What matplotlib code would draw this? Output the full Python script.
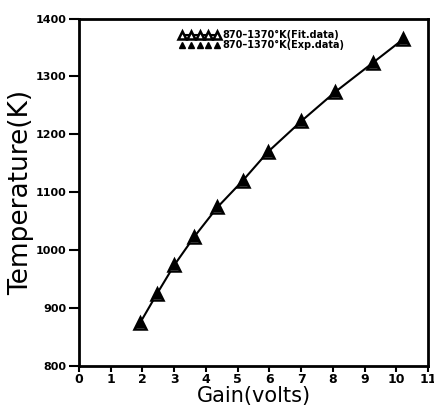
import numpy as np
import matplotlib
matplotlib.use('Agg')
import matplotlib.pyplot as plt

# valori
gain = [1.92, 2.45, 3.00, 3.63, 4.36, 5.16, 5.96, 7.01, 8.07, 9.27, 10.21]
temp_fit = [874, 924, 974, 1023, 1074, 1120, 1170, 1223, 1273, 1324, 1364]
temp_exp = [874, 924, 974, 1023, 1074, 1120, 1170, 1223, 1273, 1324, 1364]
xticks = list(range(0, 12))
yticks = [800, 900, 1000, 1100, 1200, 1300, 1400]

fig = plt.figure(figsize=(4.35, 4.15), dpi=100)
ax = fig.add_axes([0.1816, 0.118, 0.8024, 0.8374])

ax.plot(gain, temp_fit, '-^', color='k', lw=1.5, ms=8, mfc='white', mec='k', mew=1.8,
        label='870\u20131370\u00b0K(Fit.data)')
ax.plot(gain, temp_exp, '^', color='k', ms=6, mfc='k', mec='k', ls='none',
        label='870\u20131370\u00b0K(Exp.data)')

ax.set_xlim(0, 11)
ax.set_ylim(800, 1400)
ax.set_xticks(xticks)
ax.set_yticks(yticks)
ax.set_xticklabels([str(t) for t in xticks], fontsize=9, fontweight='bold')
ax.set_yticklabels([str(t) for t in yticks], fontsize=8, fontweight='bold')
ax.tick_params(axis='y', direction='out', length=7, width=1.5, pad=2)
ax.tick_params(axis='x', direction='out', length=4, width=1.5, pad=1)
for s in ax.spines.values():
    s.set_linewidth(2)

ax.set_xlabel('Gain(volts)', fontsize=15, labelpad=0)
ax.set_ylabel('Temperature(K)', fontsize=19, labelpad=1)

leg = ax.legend(loc='upper center', bbox_to_anchor=(0.523, 0.983), numpoints=5, frameon=False,
                handlelength=4.2, handletextpad=0.2, labelspacing=0.0,
                markerscale=0.75, borderaxespad=0.2,
                prop={'weight': 'bold', 'size': 7})

fig.savefig('out.png', dpi=100)
